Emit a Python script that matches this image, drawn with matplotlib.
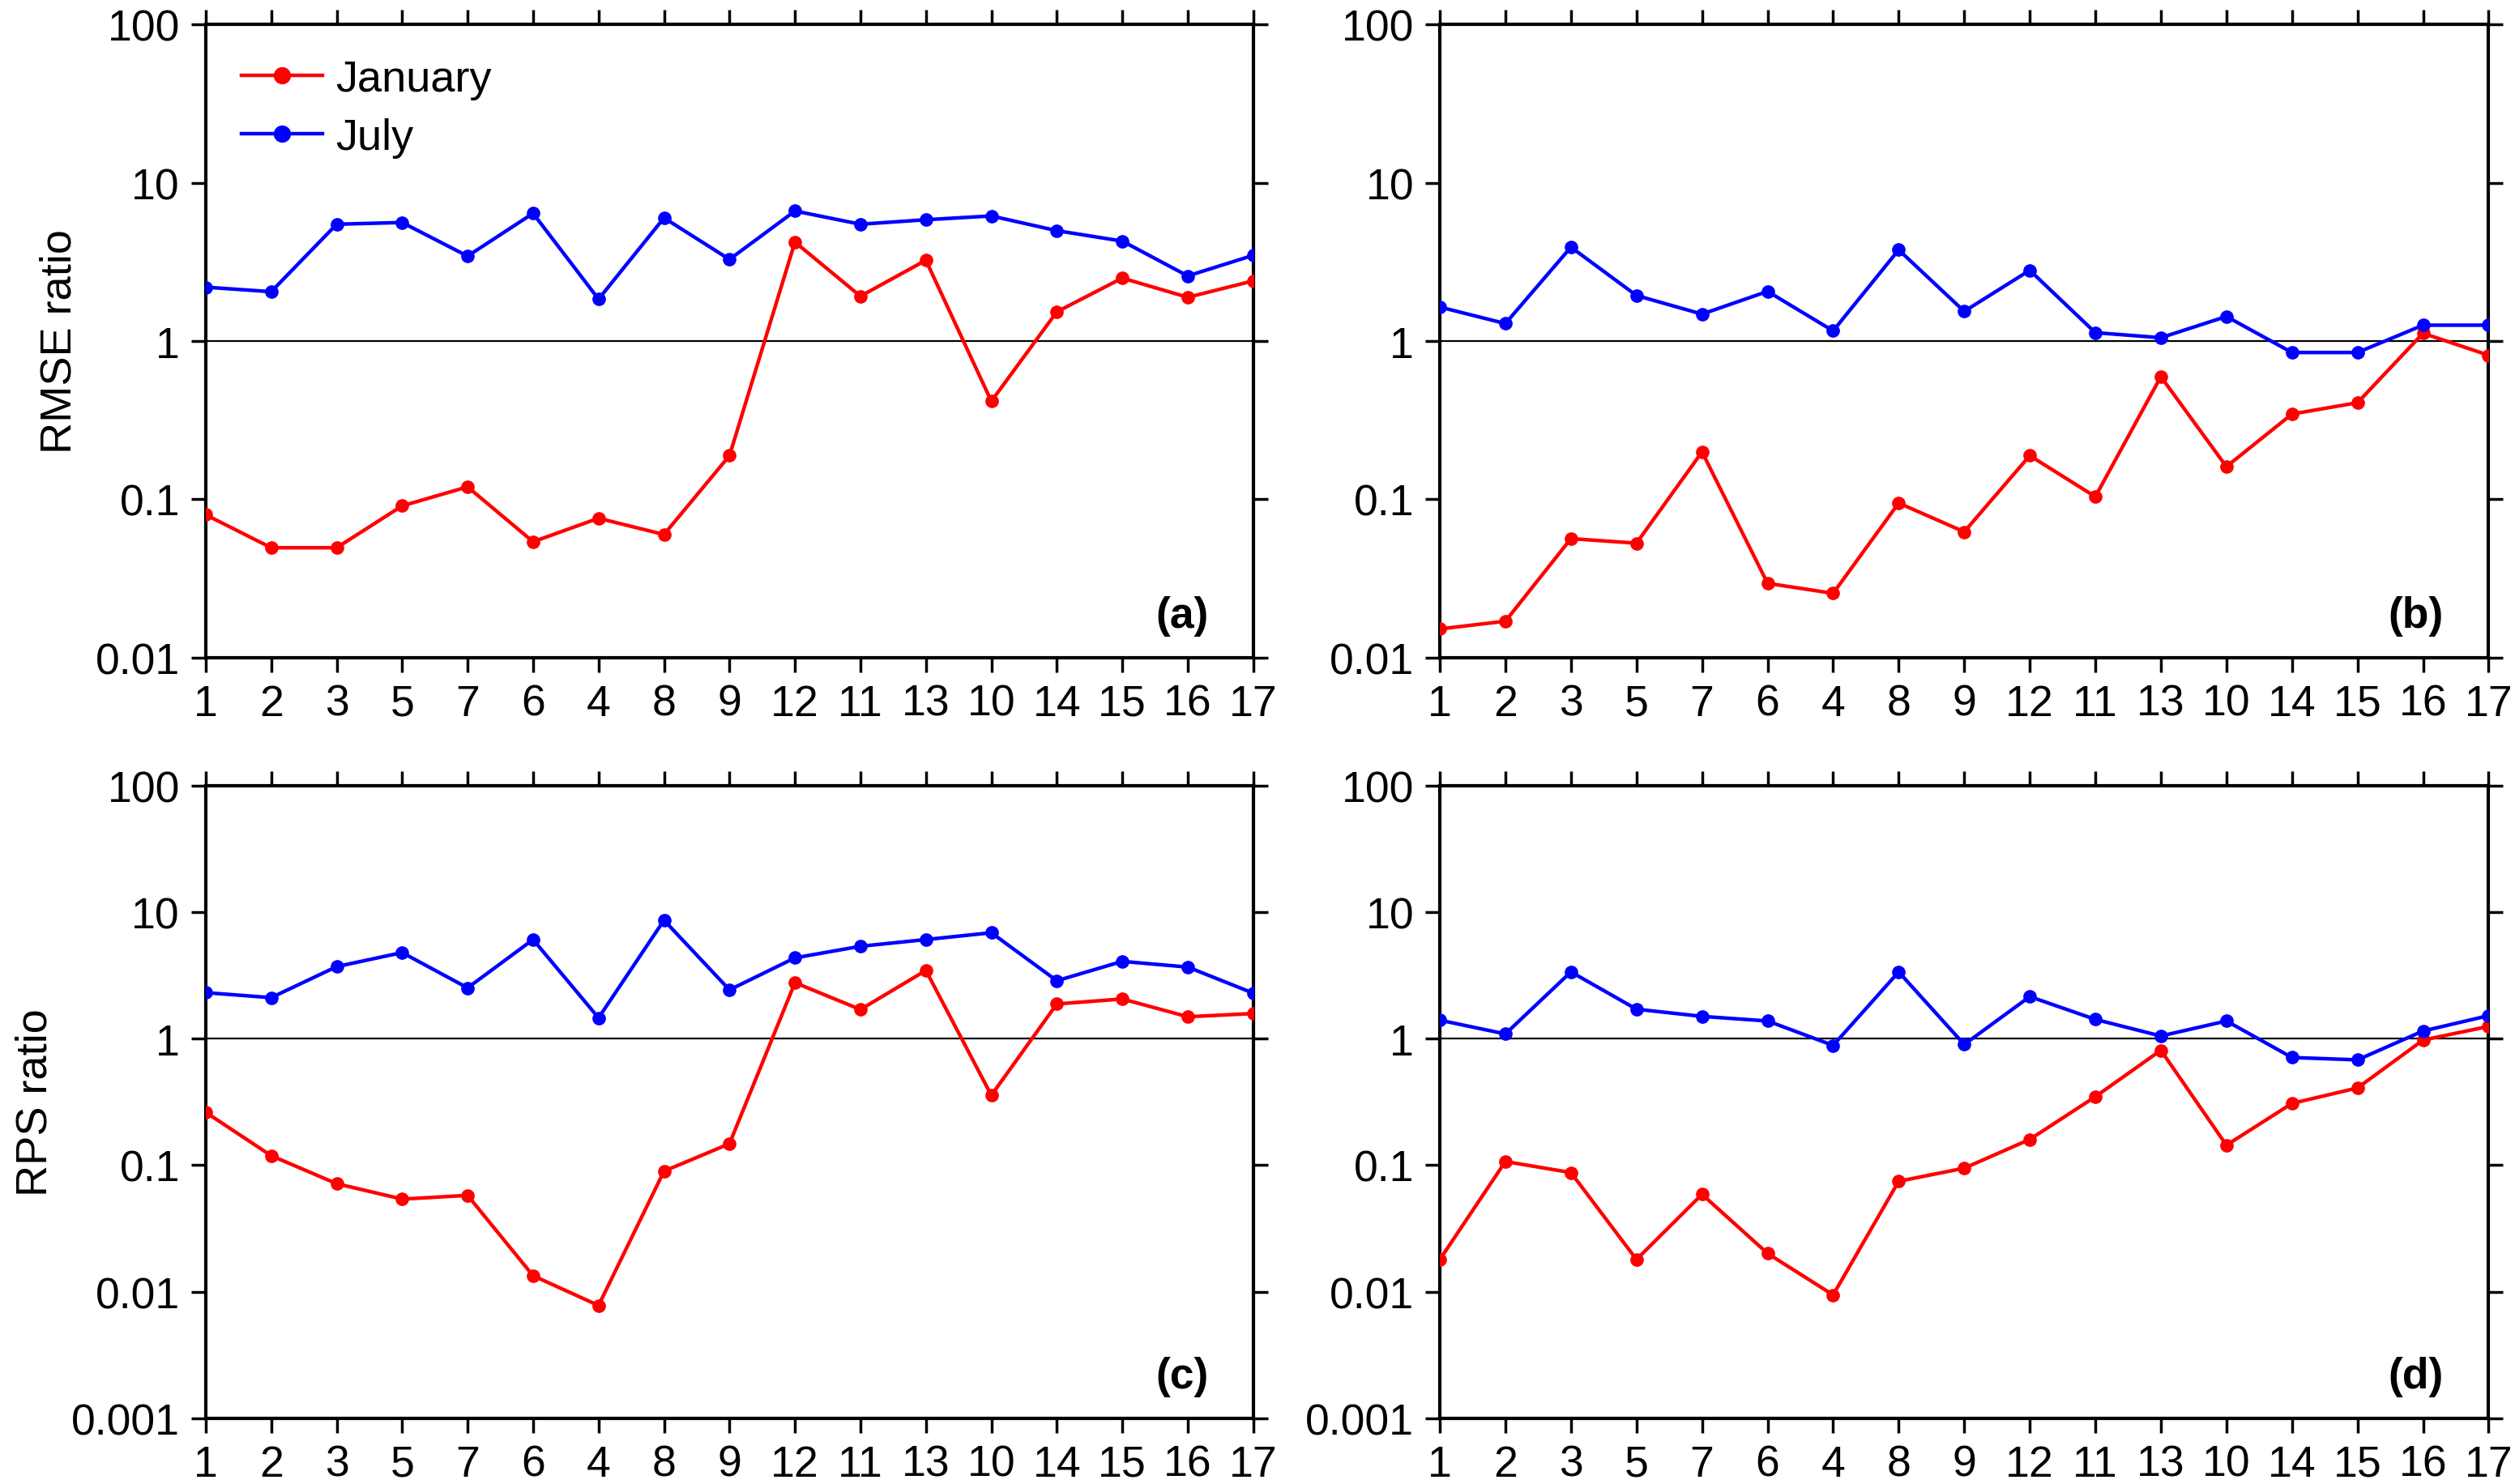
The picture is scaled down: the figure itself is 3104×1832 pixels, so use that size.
import numpy as np
import matplotlib.pyplot as plt

plt.rcParams['font.family'] = ['Liberation Sans', 'DejaVu Sans']

# order of the categories along the x axis
x_labels = ['1', '2', '3', '5', '7', '6', '4', '8', '9', '12', '11', '13', '10', '14', '15', '16', '17']

# (a) RMSE ratio
rmse_jan_a = [0.080, 0.0495, 0.0495, 0.091, 0.12, 0.054, 0.076, 0.060, 0.189, 4.22, 1.92, 3.24, 0.417, 1.53, 2.50, 1.89, 2.40]
rmse_jul_a = [2.19, 2.05, 5.47, 5.61, 3.44, 6.41, 1.84, 6.0, 3.28, 6.63, 5.47, 5.84, 6.17, 4.98, 4.28, 2.58, 3.48]
# (b) RMSE ratio
rmse_jan_b = [0.0152, 0.0170, 0.0565, 0.0529, 0.1995, 0.0295, 0.0255, 0.0948, 0.0624, 0.189, 0.104, 0.596, 0.161, 0.346, 0.408, 1.12, 0.814]
rmse_jul_b = [1.64, 1.29, 3.92, 1.94, 1.48, 2.06, 1.16, 3.77, 1.54, 2.80, 1.13, 1.05, 1.43, 0.847, 0.847, 1.26, 1.26]
# (c) RPS ratio
rps_jan_c = [0.262, 0.119, 0.0715, 0.054, 0.0578, 0.0134, 0.0078, 0.0898, 0.148, 2.77, 1.70, 3.46, 0.357, 1.88, 2.06, 1.49, 1.58]
rps_jul_c = [2.31, 2.11, 3.71, 4.79, 2.52, 6.07, 1.46, 8.63, 2.43, 4.35, 5.37, 6.07, 6.87, 2.87, 4.08, 3.68, 2.29]
# (d) RPS ratio
rps_jan_d = [0.0180, 0.107, 0.0875, 0.0180, 0.0589, 0.0201, 0.00945, 0.0747, 0.0948, 0.160, 0.348, 0.81, 0.144, 0.308, 0.408, 0.975, 1.25]
rps_jul_d = [1.40, 1.09, 3.37, 1.71, 1.50, 1.38, 0.885, 3.37, 0.90, 2.15, 1.42, 1.05, 1.38, 0.71, 0.68, 1.15, 1.52]

fs = 38.5
fig = plt.figure(figsize=(31.04, 18.33), dpi=100)

panels = [
    ([0.0818, 0.5565, 0.4165, 0.4265], rmse_jan_a, rmse_jul_a, '(a)', 'RMSE ratio', 0.01),
    ([0.5725, 0.5565, 0.4170, 0.4265], rmse_jan_b, rmse_jul_b, '(b)', None, 0.01),
    ([0.0818, 0.0442, 0.4165, 0.4262], rps_jan_c, rps_jul_c, '(c)', 'RPS ratio', 0.001),
    ([0.5725, 0.0442, 0.4170, 0.4262], rps_jan_d, rps_jul_d, '(d)', None, 0.001),
]

x = np.arange(len(x_labels))
for i, (pos, jan, jul, tag, ylab, ymin) in enumerate(panels):
    ax = fig.add_axes(pos)
    ax.axhline(1, color='black', lw=1.6, zorder=1)
    ax.plot(x, jan, color='red', lw=3.2, marker='o', ms=11, label='January', zorder=3)
    ax.plot(x, jul, color='blue', lw=3.2, marker='o', ms=11, label='July', zorder=3)
    ax.set_yscale('log')
    ax.set_ylim(ymin, 100)
    ax.set_xlim(0, len(x_labels) - 1)
    yt = [10.0 ** k for k in range(int(round(np.log10(ymin))), 3)]
    ax.set_yticks(yt)
    ax.set_yticklabels(['%g' % v for v in yt])
    ax.minorticks_off()
    ax.set_xticks(x)
    ax.set_xticklabels(x_labels)
    ax.tick_params(direction='out', length=13, width=2.5, labelsize=fs, pad=10,
                   top=True, right=True)
    for s in ax.spines.values():
        s.set_linewidth(3)
    ax.text(0.957, 0.035, tag, transform=ax.transAxes, ha='right', va='bottom',
            fontsize=fs, fontweight='bold')
    if ylab:
        ax.set_ylabel(ylab, fontsize=39, labelpad=14)
    if i == 0:
        ax.legend(loc='upper left', bbox_to_anchor=(0.034, 0.945), frameon=False,
                  fontsize=39, handlelength=1.85, handletextpad=0.3,
                  labelspacing=0.4, borderpad=0.0, borderaxespad=0.0,
                  markerscale=1.3)

fig.savefig('out.png', dpi=100)
